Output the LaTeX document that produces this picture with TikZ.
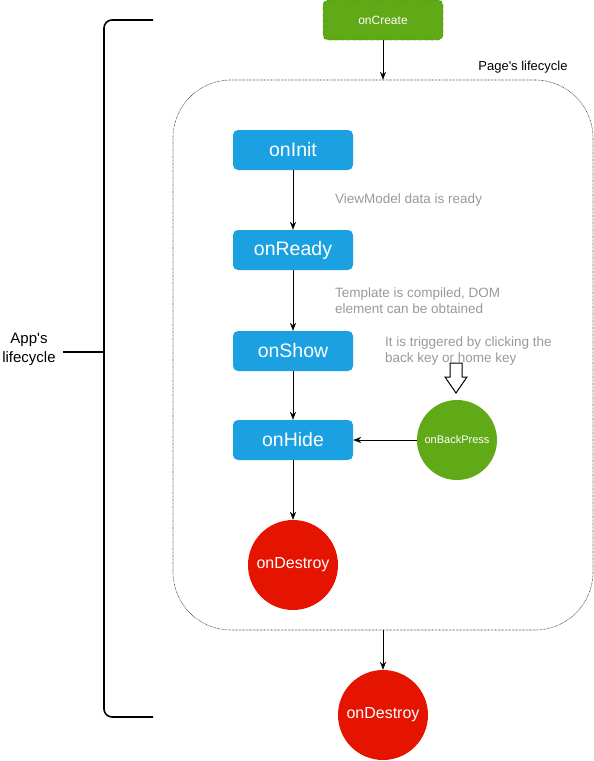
\documentclass[tikz,border=0pt]{standalone}
\usepackage{fontspec}
\setmainfont{Liberation Sans}
\usepackage{xcolor}
\usetikzlibrary{positioning,arrows.meta}

\definecolor{hookblue}{HTML}{1BA1E2}
\definecolor{hookgreen}{HTML}{60A917}
\definecolor{hookgreendark}{HTML}{2D7600}
\definecolor{hookred}{HTML}{E51400}
\definecolor{notegray}{HTML}{999999}

\begin{document}
\begin{tikzpicture}[
    x=1pt, y=-1pt,
    >={Stealth[length=8pt,width=6pt]},
    stage/.style={rectangle, rounded corners=5pt, fill=hookblue, text=white, minimum width=120pt, minimum height=40pt, inner sep=0pt, font=\fontsize{19.5}{22}\selectfont},
    ending/.style={circle, fill=hookred, text=white, minimum size=90pt, inner sep=0pt, font=\fontsize{16}{19}\selectfont},
    note/.style={anchor=west, align=left, text=notegray, inner sep=0pt, font=\fontsize{13.5}{16}\selectfont},
    label/.style={inner sep=0pt, font=\fontsize{13}{16}\selectfont}
]
\useasboundingbox (0,0) rectangle (594,761);

% === App level ===
\node[rectangle, rounded corners=5pt, fill=hookgreen, draw=hookgreendark, dashed, text=white, minimum width=120pt, minimum height=40pt, inner sep=0pt, font=\fontsize{12}{14}\selectfont] (create) at (383,20) {onCreate};

% Page container
\node[rectangle, draw=black!85, dash pattern=on 0.6pt off 0.8pt, line width=0.6pt, rounded corners=58pt, minimum width=420pt, minimum height=550pt, inner sep=0pt] (page) at (383,355) {};
\node[label] (pagelbl) at (523,67) {Page\textquotesingle s lifecycle};

% === Page hooks ===
\node[stage] (init) at (293,150) {onInit};
\node[stage] (ready) at (293,250) {onReady};
\node[stage] (show) at (293,351) {onShow};
\node[stage] (hide) at (293,440) {onHide};
\node[ending] (destroyA) at (293,565) {onDestroy};

\node[circle, fill=hookgreen, text=white, minimum size=80pt, inner sep=0pt, font=\fontsize{11}{13}\selectfont] (back) at (457,440) {onBackPress};

% Notes
\node[note] (noteA) at (335,200) {ViewModel data is ready};
\node[note] (noteB) at (335,301) {Template is compiled, DOM\\element can be obtained};
\node[note] (noteC) at (385,351) {It is triggered by clicking the\\back key or home key};

% Hollow press arrow
\coordinate (press) at (456,393);
\draw[fill=white, line width=1pt, line join=miter] (press) -- ++(-11,-16) -- ++(5,0) -- ++(0,-14) -- ++(12,0) -- ++(0,14) -- ++(5,0) -- cycle;

% Arrows
\draw[->] (create) -- (page.north);
\draw[->] (init) -- (ready);
\draw[->] (ready) -- (show);
\draw[->] (show) -- (hide);
\draw[->] (hide) -- (destroyA);
\draw[->] (back) -- (hide);

% === App end ===
\node[ending] (destroyB) at (383,715) {onDestroy};
\draw[->] (page.south) -- (destroyB);

% App's lifecycle bracket
\node[align=center, inner sep=0pt, font=\fontsize{15}{19}\selectfont] (app) at (29,349) {App\textquotesingle s\\lifecycle};
\coordinate (brace) at (104,352);
\draw[line width=1.6pt, rounded corners=8pt] (153,20) -- (104,20) -- (104,717) -- (153,717);
\draw[line width=1.6pt] (63,352) -- (brace);
\end{tikzpicture}
\end{document}
